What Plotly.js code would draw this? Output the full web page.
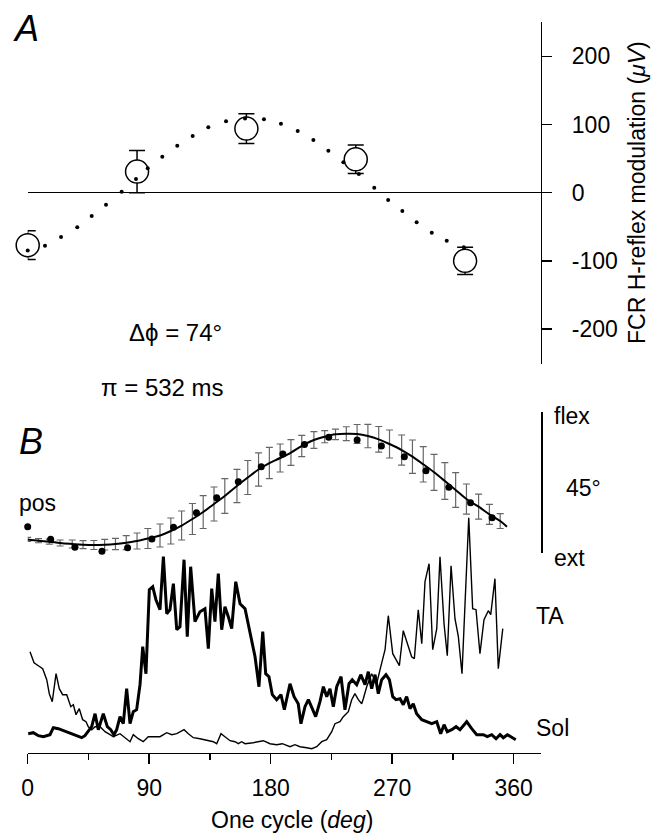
<!DOCTYPE html>
<html><head><meta charset="utf-8">
<script src="https://cdn.plot.ly/plotly-3.0.1.min.js"></script>
<style>html,body{margin:0;padding:0;background:#fff;}#chart{width:659px;height:834px;}</style>
</head><body><div id="chart"></div>
<script>
// ---------- Panel A: FCR H-reflex modulation ----------
var reflexPhase = [0, 81, 162, 243, 324];
var reflexMean  = [-77, 31, 94, 49, -100];
var reflexErr   = [21, 31, 22, 21, 20];
var reflexTickVals = [200, 100, 0, -100, -200];
var reflexTickText = ["200", "100", "0", "-100", "-200"];

var sineDotPhase = [0, 12.8, 24.7, 36.7, 47.4, 58, 69.6, 80.2, 88.9, 99.7, 110.8, 122.2, 133.8, 146.9, 161, 175, 187.6, 200, 211.6, 222.7, 233.8, 245.3, 256.7, 267, 277.5, 288.1, 299.3, 310.4, 323];
var sineDotValue = [-85, -77.7, -65, -50.7, -34.2, -17.6, 1.5, 20, 35.8, 52.8, 68.9, 83.1, 95.9, 104.7, 109, 107.6, 101.2, 90.5, 77.3, 61.6, 44.6, 27.4, 7.3, -10.7, -26.8, -43.4, -58.7, -70.4, -80];

// ---------- Panel B: ankle position ----------
var posPhase = [0, 17, 35, 55, 74, 92, 108, 125, 140, 156, 173, 189, 205, 223, 244, 262, 279, 295, 312, 328, 344];
var posValue = [8.45, 4.45, 1.9, 0.64, 1.78, 4.54, 8.26, 12.9, 17.67, 22.75, 27.5, 31.55, 34.6, 36.86, 36, 34.1, 30.7, 26.25, 21, 16.1, 11.3];

var fitPhase = [0, 8, 16, 24, 33, 41, 49, 57, 65, 73, 81, 89, 98, 106, 114, 122, 130, 138, 146, 155, 163, 171, 179, 187, 195, 203, 212, 220, 228, 236, 244, 252, 260, 268, 277, 285, 293, 301, 309, 317, 325, 334, 342, 350, 355];
var fitMean  = [4.39, 4.00, 3.69, 3.27, 2.96, 2.73, 2.64, 2.73, 2.96, 3.37, 3.91, 4.70, 5.66, 7.09, 8.83, 10.90, 13.12, 15.67, 18.21, 21.39, 24.09, 26.63, 28.69, 30.28, 32.03, 34.10, 36.00, 37.05, 37.81, 38.00, 37.91, 37.27, 36.22, 34.73, 32.82, 30.70, 28.28, 25.74, 22.97, 20.11, 17.25, 14.81, 12.39, 10.26, 8.45];
var fitSD    = [0.64, 0.64, 0.79, 0.95, 1.27, 1.27, 1.43, 1.68, 1.81, 2.22, 2.54, 3.18, 3.65, 4.13, 4.61, 4.93, 5.24, 5.40, 5.50, 5.31, 5.40, 5.31, 4.99, 4.45, 4.07, 3.40, 2.64, 1.91, 1.68, 2.22, 3.02, 3.72, 4.07, 4.45, 4.77, 5.31, 5.62, 5.72, 5.82, 5.50, 4.77, 3.97, 3.18, 2.38];

// ---------- Panel B: EMG ----------
var solPhase = [0.4, 4.1, 7.9, 11.6, 16.5, 19, 22.7, 26.4, 31.3, 36.3, 40, 42.4, 44.9, 47.4, 49.9, 52.3, 56, 59, 61.5, 63.9, 65.9, 68.4, 70.8, 73.3, 75.8, 78.2, 80.7, 83.2, 85.2, 87.6, 90.1, 92.6, 95, 98, 100.5, 103, 105.4, 107.9, 110.4, 112.8, 115.8, 118.2, 120.7, 123.9, 127.6, 131.3, 133.8, 136.3, 138.7, 141.2, 143.7, 146.1, 148.6, 151.1, 154.1, 157.3, 161, 164.7, 168.4, 171.3, 174.1, 176.3, 178.7, 181.2, 184.4, 187.6, 190.1, 194.3, 197.3, 200.4, 202.4, 205.4, 207.9, 210.8, 213.3, 216.5, 219, 221.5, 223.9, 226.4, 228.9, 232.1, 235, 238, 240.4, 243.7, 246.7, 249.9, 252.3, 254.8, 257.3, 259.7, 262.2, 265.4, 267.9, 270.4, 272.8, 275.8, 278.2, 280.7, 283.2, 285.6, 288.1, 291.9, 295.6, 299.3, 303, 305.9, 308.4, 310.8, 314.1, 317.3, 320.2, 325.2, 328.9, 332.6, 337.5, 340.4, 343.7, 346.9, 349.9, 352.3, 355.3, 358.5, 361.5];
var solEmg   = [19, 20, 17, 16, 18, 25, 24, 22, 19, 17, 15, 17, 21, 26, 39, 23, 39, 26, 23, 18, 23, 36, 29, 64, 29, 41, 43, 68, 106, 79, 163, 166, 153, 143, 196, 139, 143, 169, 123, 126, 193, 116, 186, 131, 141, 144, 104, 164, 131, 179, 123, 146, 136, 124, 171, 149, 144, 118, 96, 66, 121, 79, 76, 58, 53, 58, 43, 69, 56, 49, 29, 46, 53, 44, 36, 51, 66, 56, 64, 46, 66, 76, 43, 69, 73, 68, 78, 68, 81, 64, 78, 59, 73, 78, 73, 56, 53, 54, 48, 56, 44, 49, 39, 33, 31, 29, 31, 19, 28, 21, 23, 26, 23, 31, 24, 18, 18, 16, 18, 14, 18, 15, 18, 15, 13];

var taPhase = [1.7, 4.7, 7.9, 11.1, 14.1, 16, 18.2, 21, 23.4, 25.9, 28.9, 31.9, 33.8, 35.8, 38.2, 40.7, 43.2, 44.9, 47.4, 49.9, 53.6, 57.3, 61, 63.4, 68.4, 73.3, 75.8, 78.2, 81.9, 85.6, 89.3, 93, 98, 103, 106.7, 110.4, 115.8, 119, 122.7, 127.6, 133.8, 137.5, 140, 143.2, 146.1, 149.9, 153.6, 156, 158.5, 161, 167.1, 174.5, 179.5, 184.4, 188.6, 194.3, 198, 201.7, 206.7, 210.4, 214.1, 217.8, 221.5, 225.2, 227.6, 231.3, 233.8, 237.5, 240, 242.4, 244.9, 247.4, 248.6, 251.1, 254.8, 258.5, 261, 264.7, 267.1, 270.4, 275.3, 278.2, 284.4, 286.4, 289.3, 291.9, 294.3, 297.3, 300, 303, 305.4, 308.4, 310.8, 313.6, 316.5, 319, 321.7, 326.7, 329.6, 332.1, 335, 338, 341.2, 343, 346.1, 348.6, 351.9];
var taEmg   = [101, 90, 87, 84, 73, 59, 51, 79, 64, 58, 58, 46, 48, 38, 44, 33, 31, 26, 23, 26, 26, 21, 18, 16, 19, 14, 11, 18, 14, 11, 16, 16, 16, 20, 18, 19, 23, 19, 15, 14, 12, 11, 9, 19, 16, 12, 11, 9, 11, 9, 10, 12, 9, 8, 9, 6, 8, 6, 5, 4, 6, 11, 13, 21, 29, 31, 36, 41, 53, 59, 53, 49, 54, 66, 79, 69, 83, 103, 137, 99, 87, 122, 96, 94, 143, 109, 171, 189, 103, 124, 196, 129, 97, 187, 134, 116, 79, 235, 144, 143, 99, 133, 142, 138, 174, 84, 124];

var cycleTickVals = [0, 90, 180, 270, 360];
var cycleTickText = ["0", "90", "180", "270", "360"];
var cycleMinorVals = [45, 135, 225, 315];

var FONT = "Liberation Sans, Arial, Helvetica, sans-serif";
var FS = 23;
var fitSDPhase = fitPhase.slice(0, fitSD.length);
var fitSDMean = fitMean.slice(0, fitSD.length);

var traces = [
  {x: taPhase, y: taEmg, xaxis: 'x', yaxis: 'y', mode: 'lines', line: {color: '#000', width: 1.4}, cliponaxis: false, hoverinfo: 'skip'},
  {x: solPhase, y: solEmg, xaxis: 'x', yaxis: 'y', mode: 'lines', line: {color: '#000', width: 3, join: 'round'}, cliponaxis: false, hoverinfo: 'skip'},
  {x: fitSDPhase, y: fitSDMean, xaxis: 'x', yaxis: 'y3', mode: 'markers', marker: {size: 1, color: 'rgba(0,0,0,0)'},
   error_y: {type: 'data', array: fitSD, visible: true, color: '#666', thickness: 1.2, width: 3.5}, cliponaxis: false, hoverinfo: 'skip'},
  {x: fitPhase, y: fitMean, xaxis: 'x', yaxis: 'y3', mode: 'lines', line: {color: '#000', width: 2, shape: 'spline'}, cliponaxis: false, hoverinfo: 'skip'},
  {x: posPhase, y: posValue, xaxis: 'x', yaxis: 'y3', mode: 'markers', marker: {color: '#000', size: 7}, cliponaxis: false, hoverinfo: 'skip'},
  {x: reflexPhase, y: reflexMean, xaxis: 'x', yaxis: 'y2', mode: 'markers',
   marker: {symbol: 'circle', size: 23, color: '#fff', line: {color: '#000', width: 1.5}},
   error_y: {type: 'data', array: reflexErr, visible: true, color: '#000', thickness: 1.5, width: 8}, cliponaxis: false, hoverinfo: 'skip'},
  {x: sineDotPhase, y: sineDotValue, xaxis: 'x', yaxis: 'y2', mode: 'markers', marker: {color: '#000', size: 4}, cliponaxis: false, hoverinfo: 'skip'}
];

var H = 834, W = 659;
function px(x) { return x / W; }
function py(y) { return (H - y) / H; }

function ann(text, x, y, size, opts) {
  var a = {text: text, x: px(x), y: py(y), xref: 'paper', yref: 'paper', showarrow: false,
    xanchor: 'center', yanchor: 'middle', font: {family: FONT, size: size, color: '#000'}};
  if (opts) for (var k in opts) a[k] = opts[k];
  return a;
}

var layout = {
  width: W, height: H, autosize: false,
  margin: {l: 0, r: 0, t: 0, b: 0},
  paper_bgcolor: '#fff', plot_bgcolor: 'rgba(0,0,0,0)',
  showlegend: false,
  font: {family: FONT, color: '#000'},
  xaxis: {
    domain: [px(27.7), px(540.7)], range: [0, 380], anchor: 'y',
    showline: true, linecolor: '#000', linewidth: 1.5,
    ticks: 'outside', ticklen: 10, tickwidth: 1.5, tickcolor: '#000',
    tickmode: 'array', tickvals: cycleTickVals, ticktext: cycleTickText,
    tickfont: {family: FONT, size: FS, color: '#000'}, ticklabelstandoff: 4,
    minor: {tickmode: 'array', tickvals: cycleMinorVals, ticks: 'outside', ticklen: 6, tickwidth: 1.5, tickcolor: '#000', showgrid: false},
    showgrid: false, zeroline: false, fixedrange: true
  },
  yaxis: {
    domain: [py(752.7), py(502.7)], range: [0, 250], anchor: 'x',
    visible: false, showgrid: false, zeroline: false, fixedrange: true
  },
  yaxis3: {
    domain: [py(553.3), py(411.7)], range: [0, 45], anchor: 'x', side: 'right',
    showline: true, linecolor: '#000', linewidth: 2, ticks: '', showticklabels: false,
    showgrid: false, zeroline: false, fixedrange: true
  },
  yaxis2: {
    domain: [py(364), py(21.7)], range: [-251.4, 250.9], anchor: 'x', side: 'right',
    showline: true, linecolor: '#000', linewidth: 1.5,
    ticks: 'outside', ticklen: 10, tickwidth: 1.5, tickcolor: '#000',
    tickmode: 'array', tickvals: reflexTickVals, ticktext: reflexTickText,
    tickfont: {family: FONT, size: FS, color: '#000'}, ticklabelstandoff: 15,
    showgrid: false, zeroline: true, zerolinecolor: '#000', zerolinewidth: 1.2, fixedrange: true
  },
  annotations: [
    ann('<i>A</i>', 26, 28, 36),
    ann('<i>B</i>', 31, 441, 36),
    ann('Δϕ = 74°', 175, 333, 24),
    ann('π = 532 ms', 162, 387, 24),
    ann('pos', 37, 503, FS),
    ann('flex', 552, 416, FS, {xanchor: 'left'}),
    ann('45°', 583, 488, FS),
    ann('ext', 552, 558, FS, {xanchor: 'left'}),
    ann('TA', 534, 616, FS, {xanchor: 'left'}),
    ann('Sol', 534, 728, FS, {xanchor: 'left'}),
    ann('One cycle (<i>deg</i>)', 292, 834, FS, {yanchor: 'bottom', borderpad: 0}),
    ann('FCR H-reflex modulation (<i>μV</i>)', 637, 193, 23, {textangle: -90})
  ]
};

Plotly.newPlot('chart', traces, layout, {displayModeBar: false, staticPlot: true});
</script></body></html>
